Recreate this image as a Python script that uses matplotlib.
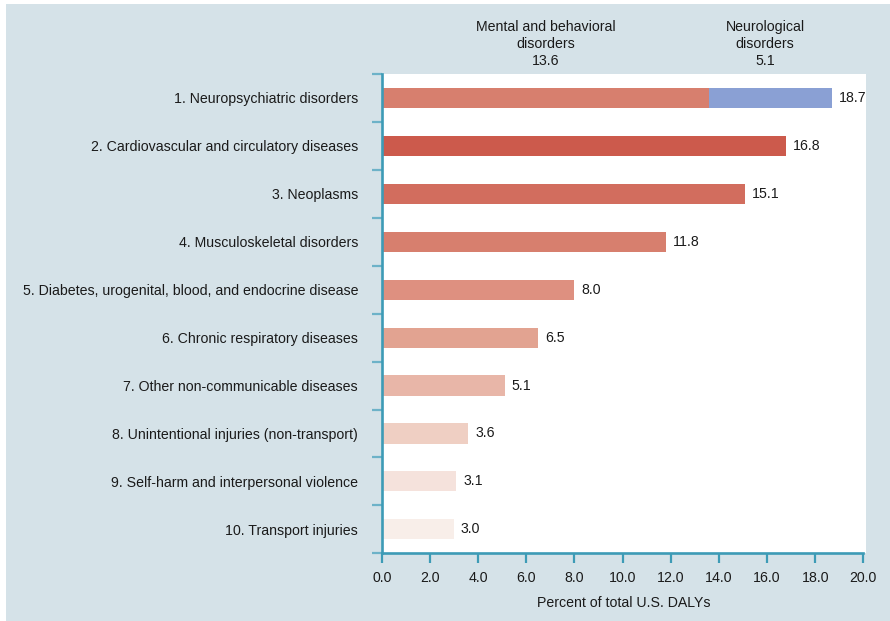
import matplotlib
matplotlib.use("Agg")
import matplotlib.pyplot as plt
from matplotlib.patches import Rectangle
import numpy as np

plt.rcParams['font.family'] = ['Liberation Sans', 'DejaVu Sans']

categories = [
    "1. Neuropsychiatric disorders",
    "2. Cardiovascular and circulatory diseases",
    "3. Neoplasms",
    "4. Musculoskeletal disorders",
    "5. Diabetes, urogenital, blood, and endocrine disease",
    "6. Chronic respiratory diseases",
    "7. Other non-communicable diseases",
    "8. Unintentional injuries (non-transport)",
    "9. Self-harm and interpersonal violence",
    "10. Transport injuries",
]
totals = [18.7, 16.8, 15.1, 11.8, 8.0, 6.5, 5.1, 3.6, 3.1, 3.0]

# Neuropsychiatric split
mental = 13.6
neuro = 5.1

bar_colors = ["#d77f6e", "#cc5a4c", "#d26d5e", "#d77f6e", "#de9080",
              "#e2a391", "#e8b6a8", "#efcfc3", "#f5e2dc", "#f8eee9"]
neuro_color = "#8aa0d4"

xticks = [0, 2, 4, 6, 8, 10, 12, 14, 16, 18, 20]
xtick_labels = [f"{v:.1f}" for v in xticks]

bg = "#d5e2e8"
spine = "#3d9bb6"
tick_light = "#6db2c8"
text_color = "#1a1a1a"
fs = 10.2

fig = plt.figure(figsize=(8.9, 6.21), dpi=100)
fig.patch.set_facecolor("white")
fig.patches.append(Rectangle((6 / 890, 0), 1 - 6 / 890, 1 - 4 / 621,
                             transform=fig.transFigure, facecolor=bg,
                             edgecolor="none", zorder=-10))

ax = fig.add_axes([0.4289, 0.1090, 0.5441, 0.7718])
ax.set_facecolor("white")

y = np.arange(len(categories))
bar_h = 0.42

# first bar drawn as two stacked segments, the rest as single bars
ax.barh(y[1:], totals[1:], height=bar_h, color=bar_colors[1:], zorder=2)
ax.barh(y[0], mental, height=bar_h, color=bar_colors[0], zorder=2)
ax.barh(y[0], neuro, left=mental, height=bar_h, color=neuro_color, zorder=2)

for yi, v in zip(y, totals):
    ax.annotate(f"{v:.1f}", xy=(v, yi), xytext=(5, 0), textcoords="offset points",
                ha="left", va="center", fontsize=fs, color=text_color)

# segment headers above the first bar
ax.annotate(f"Mental and behavioral\ndisorders\n{mental:.1f}",
            xy=(mental / 2, 1), xycoords=("data", "axes fraction"),
            xytext=(0, 4), textcoords="offset points",
            ha="center", va="bottom", multialignment="center",
            fontsize=fs, color=text_color, linespacing=1.28,
            annotation_clip=False)
ax.annotate(f"Neurological\ndisorders\n{neuro:.1f}",
            xy=(mental + neuro / 2, 1), xycoords=("data", "axes fraction"),
            xytext=(-4, 4), textcoords="offset points",
            ha="center", va="bottom", multialignment="center",
            fontsize=fs, color=text_color, linespacing=1.28,
            annotation_clip=False)

ax.set_xlim(0, 20.11)
ax.set_ylim(len(categories) - 0.5, -0.5)

ax.set_xticks(xticks)
ax.set_xticklabels(xtick_labels, fontsize=fs, color=text_color)
ax.tick_params(axis="x", direction="out", length=7, width=1.6, color=spine, pad=6)

ax.set_yticks(y)
ax.set_yticklabels(categories, fontsize=fs, color=text_color)
ax.tick_params(axis="y", which="major", length=0, pad=17)
ax.set_yticks(np.arange(-0.5, len(categories), 1.0), minor=True)
ax.tick_params(axis="y", which="minor", direction="out", length=7, width=1.6,
               color=tick_light)

for s in ("top", "right"):
    ax.spines[s].set_visible(False)
for s in ("left", "bottom"):
    ax.spines[s].set_color(spine)
    ax.spines[s].set_linewidth(1.9)
ax.spines["bottom"].set_bounds(0, 20)

ax.set_xlabel("Percent of total U.S. DALYs", fontsize=fs, color=text_color, labelpad=8)

fig.savefig("out.png", dpi=100, facecolor=fig.get_facecolor())
